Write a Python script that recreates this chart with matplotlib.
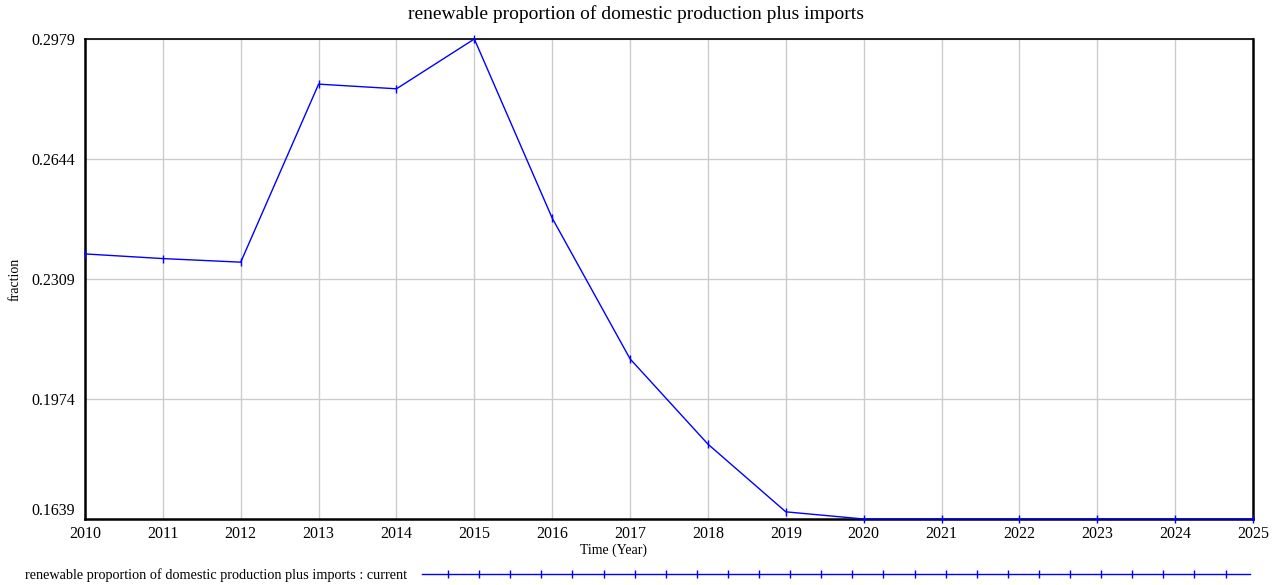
import numpy as np
import matplotlib.pyplot as plt
from matplotlib.lines import Line2D

plt.rcParams['font.family'] = ['Liberation Serif', 'DejaVu Serif']

years = [2010, 2011, 2012, 2013, 2014, 2015, 2016, 2017, 2018, 2019,
         2020, 2021, 2022, 2023, 2024, 2025]
fraction = [0.2379, 0.2366, 0.2356, 0.2853, 0.2840, 0.2979, 0.2479, 0.2086,
            0.1848, 0.1659, 0.1639, 0.1639, 0.1639, 0.1639, 0.1639, 0.1639]

y_ticks = [0.1639, 0.1974, 0.2309, 0.2644, 0.2979]
title = 'renewable proportion of domestic production plus imports'
series_label = 'renewable proportion of domestic production plus imports : current'

fig = plt.figure(figsize=(12.73, 5.85), dpi=100)
ax = fig.add_axes([85/1273, 1 - 519/585, 1168/1273, 480/585])

ax.plot(years, fraction, color='#0000ff', lw=1, marker='|', markersize=6,
        markeredgewidth=1, clip_on=False, zorder=5)

ax.set_xlim(2010, 2025)
ax.set_ylim(y_ticks[0], y_ticks[-1])
ax.set_xticks(years)
ax.set_yticks(y_ticks)
ax.set_yticklabels(['%.4f' % v for v in y_ticks])
ax.tick_params(length=0, labelsize=11.5)
ax.tick_params(axis='y', pad=7)
ax.tick_params(axis='x', pad=5)
ax.get_yticklabels()[0].set_va('bottom')
ax.grid(True, color='#cccccc', lw=1)
ax.set_axisbelow(True)
for s in ax.spines.values():
    s.set_linewidth(1.8)
    s.set_color('black')
ax.spines['top'].set_linewidth(1.2)

fig.text(0.5, 1 - 14/585, title, ha='center', va='center', fontsize=14)
fig.text(15/1273, 1 - 279/585, 'fraction', rotation=90, ha='center', va='center', fontsize=10)
fig.text(614/1273, 1 - 550/585, 'Time (Year)', ha='center', va='center', fontsize=10)

# legend row
fig.text(25/1273, 1 - 575/585, series_label, ha='left', va='center', fontsize=10.3)
lx = np.linspace(422, 1250, 2) / 1273
fig.add_artist(Line2D(lx, [1 - 574/585] * 2, color='#0000ff', lw=1))
mx = np.arange(448, 1240, 31.1) / 1273
fig.add_artist(Line2D(mx, [1 - 574/585] * len(mx), color='#0000ff', lw=0,
                      marker='|', markersize=6))

fig.savefig('out.png', dpi=100)
